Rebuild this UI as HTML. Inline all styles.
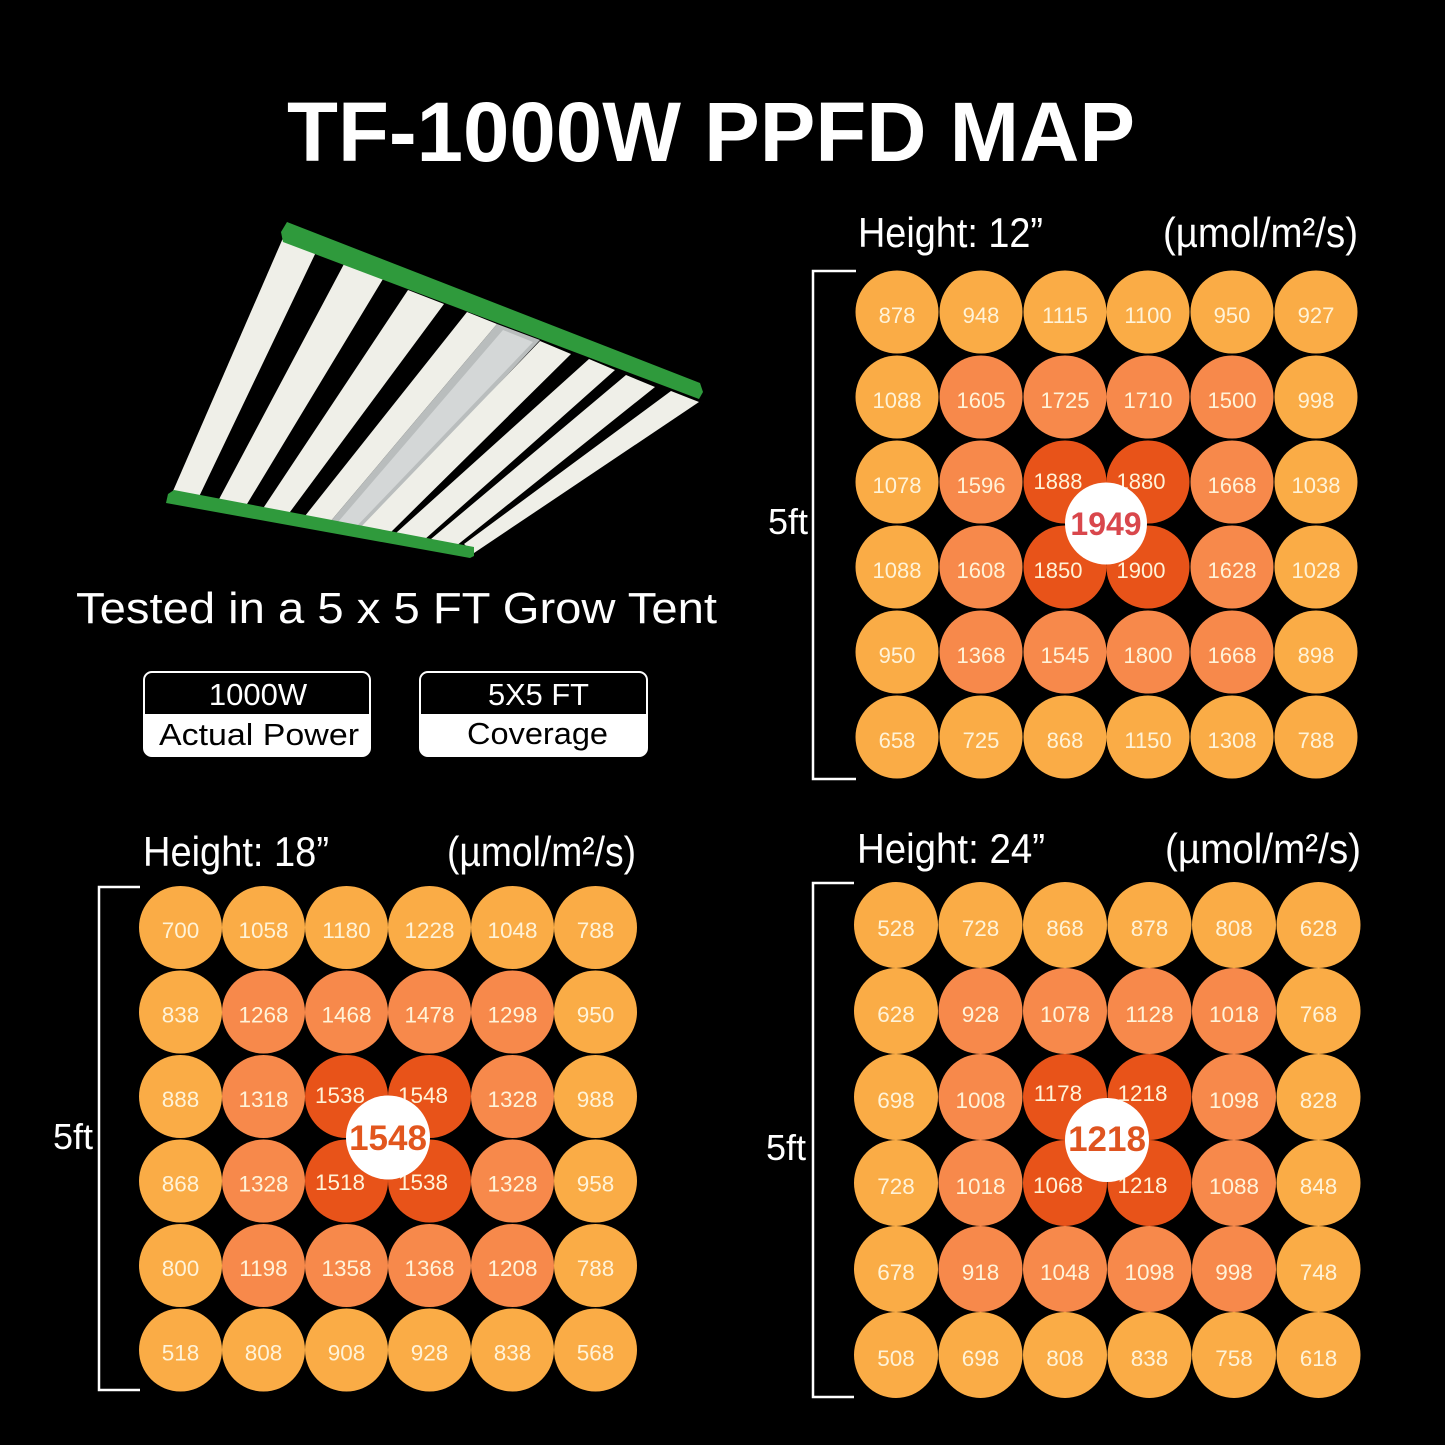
<!DOCTYPE html>
<html><head><meta charset="utf-8"><style>
html,body{margin:0;padding:0;background:#000;}
svg{display:block;}
text{font-family:"Liberation Sans",Arial,sans-serif;}
.L{fill:#faac46}.M{fill:#f7894b}.D{fill:#e85319}
.t{font-size:22px;fill:#fff3d8;text-anchor:middle}
.t2{font-size:22.5px;fill:#fff3d8;text-anchor:middle}
.lab{font-size:42px;fill:#fff}
.ft{font-size:36px;fill:#fff;text-anchor:end}
.br{fill:none;stroke:#fff;stroke-width:2.5}
</style></head><body>
<svg width="1445" height="1445" viewBox="0 0 1445 1445" xmlns="http://www.w3.org/2000/svg">
<rect width="1445" height="1445" fill="#000"/>
<text x="287" y="161" font-size="84" font-weight="bold" fill="#fff" textLength="848" lengthAdjust="spacingAndGlyphs">TF-1000W PPFD MAP</text>
<g>
<polygon points="283,238 317,250 196,503 170,498" fill="#efefe8"/>
<polygon points="344,264 383,279 244,509 217,503" fill="#efefe8"/>
<polygon points="408,290 444,304 287,516 262,510" fill="#efefe8"/>
<polygon points="467,312 497,324 330,522 305,516" fill="#efefe8"/>
<polygon points="497,324 540,340 360,532 330,522" fill="#b9bdbd"/>
<polygon points="503,330 533,342 355,528 338,522" fill="#d4d7d7"/>
<polygon points="540,341 571,354 389,534 360,528" fill="#efefe8"/>
<polygon points="589,359 615,370 424,540 396,533" fill="#efefe8"/>
<polygon points="626,375 655,387 456,546 431,539" fill="#efefe8"/>
<polygon points="671,391 699,402 474,553 464,544" fill="#efefe8"/>
<polygon points="281,232 287,222 700,383 703,392 699,399 283,242" fill="#2f9a3c"/>
<polygon points="168,494 174,490 474,547 474,556 470,558 166,503" fill="#2f9a3c"/>
</g>
<text x="76" y="623" font-size="44" fill="#fff" textLength="641" lengthAdjust="spacingAndGlyphs">Tested in a 5 x 5 FT Grow Tent</text>
<defs>
<clipPath id="c1"><rect x="144" y="672" width="226" height="84" rx="8"/></clipPath>
<clipPath id="c2"><rect x="420" y="672" width="227" height="84" rx="8"/></clipPath>
</defs>
<rect x="144" y="714" width="226" height="44" fill="#fff" clip-path="url(#c1)"/>
<rect x="144" y="672" width="226" height="84" rx="8" fill="none" stroke="#fff" stroke-width="2"/>
<text x="258" y="705" font-size="31" fill="#fff" text-anchor="middle">1000W</text>
<text x="159" y="745" font-size="31" fill="#000" textLength="200" lengthAdjust="spacingAndGlyphs">Actual Power</text>
<rect x="420" y="714" width="227" height="44" fill="#fff" clip-path="url(#c2)"/>
<rect x="420" y="672" width="227" height="84" rx="8" fill="none" stroke="#fff" stroke-width="2"/>
<text x="488" y="705" font-size="31" fill="#fff" textLength="101" lengthAdjust="spacingAndGlyphs">5X5 FT</text>
<text x="467" y="744" font-size="31" fill="#000" textLength="141" lengthAdjust="spacingAndGlyphs">Coverage</text>

<!-- Grid 1 -->
<text class="lab" x="858" y="247" textLength="185" lengthAdjust="spacingAndGlyphs">Height: 12”</text>
<text class="lab" x="1163" y="247" textLength="195" lengthAdjust="spacingAndGlyphs">(µmol/m²/s)</text>
<polyline class="br" points="856,271 813,271 813,779 856,779"/>
<text class="ft" x="808" y="534">5ft</text>
<g>
<circle class="L" cx="897" cy="312" r="41.5"/><circle class="L" cx="981" cy="312" r="41.5"/><circle class="L" cx="1065" cy="312" r="41.5"/><circle class="L" cx="1148" cy="312" r="41.5"/><circle class="L" cx="1232" cy="312" r="41.5"/><circle class="L" cx="1316" cy="312" r="41.5"/>
<circle class="L" cx="897" cy="397" r="41.5"/><circle class="M" cx="981" cy="397" r="41.5"/><circle class="M" cx="1065" cy="397" r="41.5"/><circle class="M" cx="1148" cy="397" r="41.5"/><circle class="M" cx="1232" cy="397" r="41.5"/><circle class="L" cx="1316" cy="397" r="41.5"/>
<circle class="L" cx="897" cy="482" r="41.5"/><circle class="M" cx="981" cy="482" r="41.5"/><circle class="D" cx="1065" cy="482" r="41.5"/><circle class="D" cx="1148" cy="482" r="41.5"/><circle class="M" cx="1232" cy="482" r="41.5"/><circle class="L" cx="1316" cy="482" r="41.5"/>
<circle class="L" cx="897" cy="567" r="41.5"/><circle class="M" cx="981" cy="567" r="41.5"/><circle class="D" cx="1065" cy="567" r="41.5"/><circle class="D" cx="1148" cy="567" r="41.5"/><circle class="M" cx="1232" cy="567" r="41.5"/><circle class="L" cx="1316" cy="567" r="41.5"/>
<circle class="L" cx="897" cy="652" r="41.5"/><circle class="M" cx="981" cy="652" r="41.5"/><circle class="M" cx="1065" cy="652" r="41.5"/><circle class="M" cx="1148" cy="652" r="41.5"/><circle class="M" cx="1232" cy="652" r="41.5"/><circle class="L" cx="1316" cy="652" r="41.5"/>
<circle class="L" cx="897" cy="737" r="41.5"/><circle class="L" cx="981" cy="737" r="41.5"/><circle class="L" cx="1065" cy="737" r="41.5"/><circle class="L" cx="1148" cy="737" r="41.5"/><circle class="L" cx="1232" cy="737" r="41.5"/><circle class="L" cx="1316" cy="737" r="41.5"/>
</g>
<g class="t">
<text class="t" x="897" y="323">878</text><text class="t" x="981" y="323">948</text><text class="t" x="1065" y="323">1115</text><text class="t" x="1148" y="323">1100</text><text class="t" x="1232" y="323">950</text><text class="t" x="1316" y="323">927</text>
<text class="t" x="897" y="408">1088</text><text class="t" x="981" y="408">1605</text><text class="t" x="1065" y="408">1725</text><text class="t" x="1148" y="408">1710</text><text class="t" x="1232" y="408">1500</text><text class="t" x="1316" y="408">998</text>
<text class="t" x="897" y="493">1078</text><text class="t" x="981" y="493">1596</text><text class="t" x="1058" y="489">1888</text><text class="t" x="1141" y="489">1880</text><text class="t" x="1232" y="493">1668</text><text class="t" x="1316" y="493">1038</text>
<text class="t" x="897" y="578">1088</text><text class="t" x="981" y="578">1608</text><text class="t" x="1058" y="578">1850</text><text class="t" x="1141" y="578">1900</text><text class="t" x="1232" y="578">1628</text><text class="t" x="1316" y="578">1028</text>
<text class="t" x="897" y="663">950</text><text class="t" x="981" y="663">1368</text><text class="t" x="1065" y="663">1545</text><text class="t" x="1148" y="663">1800</text><text class="t" x="1232" y="663">1668</text><text class="t" x="1316" y="663">898</text>
<text class="t" x="897" y="748">658</text><text class="t" x="981" y="748">725</text><text class="t" x="1065" y="748">868</text><text class="t" x="1148" y="748">1150</text><text class="t" x="1232" y="748">1308</text><text class="t" x="1316" y="748">788</text>
</g>
<circle cx="1106" cy="523.5" r="41" fill="#fff"/>
<text x="1106" y="535" font-size="32" font-weight="bold" fill="#d9474c" text-anchor="middle">1949</text>

<!-- Grid 2 -->
<text class="lab" x="143" y="866" textLength="186" lengthAdjust="spacingAndGlyphs">Height: 18”</text>
<text class="lab" x="447" y="866" textLength="189" lengthAdjust="spacingAndGlyphs">(µmol/m²/s)</text>
<polyline class="br" points="140,887 99,887 99,1390 140,1390"/>
<text class="ft" x="93" y="1149">5ft</text>
<g>
<circle class="L" cx="180.5" cy="927.5" r="41.5"/><circle class="L" cx="263.5" cy="927.5" r="41.5"/><circle class="L" cx="346.5" cy="927.5" r="41.5"/><circle class="L" cx="429.5" cy="927.5" r="41.5"/><circle class="L" cx="512.5" cy="927.5" r="41.5"/><circle class="L" cx="595.5" cy="927.5" r="41.5"/>
<circle class="L" cx="180.5" cy="1012" r="41.5"/><circle class="M" cx="263.5" cy="1012" r="41.5"/><circle class="M" cx="346.5" cy="1012" r="41.5"/><circle class="M" cx="429.5" cy="1012" r="41.5"/><circle class="M" cx="512.5" cy="1012" r="41.5"/><circle class="L" cx="595.5" cy="1012" r="41.5"/>
<circle class="L" cx="180.5" cy="1096.5" r="41.5"/><circle class="M" cx="263.5" cy="1096.5" r="41.5"/><circle class="D" cx="346.5" cy="1096.5" r="41.5"/><circle class="D" cx="429.5" cy="1096.5" r="41.5"/><circle class="M" cx="512.5" cy="1096.5" r="41.5"/><circle class="L" cx="595.5" cy="1096.5" r="41.5"/>
<circle class="L" cx="180.5" cy="1181" r="41.5"/><circle class="M" cx="263.5" cy="1181" r="41.5"/><circle class="D" cx="346.5" cy="1181" r="41.5"/><circle class="D" cx="429.5" cy="1181" r="41.5"/><circle class="M" cx="512.5" cy="1181" r="41.5"/><circle class="L" cx="595.5" cy="1181" r="41.5"/>
<circle class="L" cx="180.5" cy="1265.5" r="41.5"/><circle class="M" cx="263.5" cy="1265.5" r="41.5"/><circle class="M" cx="346.5" cy="1265.5" r="41.5"/><circle class="M" cx="429.5" cy="1265.5" r="41.5"/><circle class="M" cx="512.5" cy="1265.5" r="41.5"/><circle class="L" cx="595.5" cy="1265.5" r="41.5"/>
<circle class="L" cx="180.5" cy="1350" r="41.5"/><circle class="L" cx="263.5" cy="1350" r="41.5"/><circle class="L" cx="346.5" cy="1350" r="41.5"/><circle class="L" cx="429.5" cy="1350" r="41.5"/><circle class="L" cx="512.5" cy="1350" r="41.5"/><circle class="L" cx="595.5" cy="1350" r="41.5"/>
</g>
<g>
<text class="t2" x="180.5" y="938">700</text><text class="t2" x="263.5" y="938">1058</text><text class="t2" x="346.5" y="938">1180</text><text class="t2" x="429.5" y="938">1228</text><text class="t2" x="512.5" y="938">1048</text><text class="t2" x="595.5" y="938">788</text>
<text class="t2" x="180.5" y="1022.5">838</text><text class="t2" x="263.5" y="1022.5">1268</text><text class="t2" x="346.5" y="1022.5">1468</text><text class="t2" x="429.5" y="1022.5">1478</text><text class="t2" x="512.5" y="1022.5">1298</text><text class="t2" x="595.5" y="1022.5">950</text>
<text class="t2" x="180.5" y="1107">888</text><text class="t2" x="263.5" y="1107">1318</text><text class="t2" x="340" y="1103">1538</text><text class="t2" x="423" y="1103">1548</text><text class="t2" x="512.5" y="1107">1328</text><text class="t2" x="595.5" y="1107">988</text>
<text class="t2" x="180.5" y="1191.5">868</text><text class="t2" x="263.5" y="1191.5">1328</text><text class="t2" x="340" y="1190">1518</text><text class="t2" x="423" y="1190">1538</text><text class="t2" x="512.5" y="1191.5">1328</text><text class="t2" x="595.5" y="1191.5">958</text>
<text class="t2" x="180.5" y="1276">800</text><text class="t2" x="263.5" y="1276">1198</text><text class="t2" x="346.5" y="1276">1358</text><text class="t2" x="429.5" y="1276">1368</text><text class="t2" x="512.5" y="1276">1208</text><text class="t2" x="595.5" y="1276">788</text>
<text class="t2" x="180.5" y="1360.5">518</text><text class="t2" x="263.5" y="1360.5">808</text><text class="t2" x="346.5" y="1360.5">908</text><text class="t2" x="429.5" y="1360.5">928</text><text class="t2" x="512.5" y="1360.5">838</text><text class="t2" x="595.5" y="1360.5">568</text>
</g>
<circle cx="388" cy="1137.5" r="42" fill="#fff"/>
<text x="388" y="1150" font-size="35" font-weight="bold" fill="#e2561e" text-anchor="middle">1548</text>

<!-- Grid 3 -->
<text class="lab" x="857" y="863" textLength="188" lengthAdjust="spacingAndGlyphs">Height: 24”</text>
<text class="lab" x="1165" y="863" textLength="196" lengthAdjust="spacingAndGlyphs">(µmol/m²/s)</text>
<polyline class="br" points="854,883 813,883 813,1397 854,1397"/>
<text class="ft" x="806" y="1160">5ft</text>
<g>
<ellipse class="L" cx="896" cy="925" rx="42" ry="43"/><ellipse class="L" cx="980.5" cy="925" rx="42" ry="43"/><ellipse class="L" cx="1065" cy="925" rx="42" ry="43"/><ellipse class="L" cx="1149.5" cy="925" rx="42" ry="43"/><ellipse class="L" cx="1234" cy="925" rx="42" ry="43"/><ellipse class="L" cx="1318.5" cy="925" rx="42" ry="43"/>
<ellipse class="L" cx="896" cy="1011" rx="42" ry="43"/><ellipse class="M" cx="980.5" cy="1011" rx="42" ry="43"/><ellipse class="M" cx="1065" cy="1011" rx="42" ry="43"/><ellipse class="M" cx="1149.5" cy="1011" rx="42" ry="43"/><ellipse class="M" cx="1234" cy="1011" rx="42" ry="43"/><ellipse class="L" cx="1318.5" cy="1011" rx="42" ry="43"/>
<ellipse class="L" cx="896" cy="1097" rx="42" ry="43"/><ellipse class="M" cx="980.5" cy="1097" rx="42" ry="43"/><ellipse class="D" cx="1065" cy="1097" rx="42" ry="43"/><ellipse class="D" cx="1149.5" cy="1097" rx="42" ry="43"/><ellipse class="M" cx="1234" cy="1097" rx="42" ry="43"/><ellipse class="L" cx="1318.5" cy="1097" rx="42" ry="43"/>
<ellipse class="L" cx="896" cy="1183" rx="42" ry="43"/><ellipse class="M" cx="980.5" cy="1183" rx="42" ry="43"/><ellipse class="D" cx="1065" cy="1183" rx="42" ry="43"/><ellipse class="D" cx="1149.5" cy="1183" rx="42" ry="43"/><ellipse class="M" cx="1234" cy="1183" rx="42" ry="43"/><ellipse class="L" cx="1318.5" cy="1183" rx="42" ry="43"/>
<ellipse class="L" cx="896" cy="1269" rx="42" ry="43"/><ellipse class="M" cx="980.5" cy="1269" rx="42" ry="43"/><ellipse class="M" cx="1065" cy="1269" rx="42" ry="43"/><ellipse class="M" cx="1149.5" cy="1269" rx="42" ry="43"/><ellipse class="M" cx="1234" cy="1269" rx="42" ry="43"/><ellipse class="L" cx="1318.5" cy="1269" rx="42" ry="43"/>
<ellipse class="L" cx="896" cy="1355" rx="42" ry="43"/><ellipse class="L" cx="980.5" cy="1355" rx="42" ry="43"/><ellipse class="L" cx="1065" cy="1355" rx="42" ry="43"/><ellipse class="L" cx="1149.5" cy="1355" rx="42" ry="43"/><ellipse class="L" cx="1234" cy="1355" rx="42" ry="43"/><ellipse class="L" cx="1318.5" cy="1355" rx="42" ry="43"/>
</g>
<g>
<text class="t2" x="896" y="936">528</text><text class="t2" x="980.5" y="936">728</text><text class="t2" x="1065" y="936">868</text><text class="t2" x="1149.5" y="936">878</text><text class="t2" x="1234" y="936">808</text><text class="t2" x="1318.5" y="936">628</text>
<text class="t2" x="896" y="1022">628</text><text class="t2" x="980.5" y="1022">928</text><text class="t2" x="1065" y="1022">1078</text><text class="t2" x="1149.5" y="1022">1128</text><text class="t2" x="1234" y="1022">1018</text><text class="t2" x="1318.5" y="1022">768</text>
<text class="t2" x="896" y="1108">698</text><text class="t2" x="980.5" y="1108">1008</text><text class="t2" x="1058" y="1101">1178</text><text class="t2" x="1142.5" y="1101">1218</text><text class="t2" x="1234" y="1108">1098</text><text class="t2" x="1318.5" y="1108">828</text>
<text class="t2" x="896" y="1194">728</text><text class="t2" x="980.5" y="1194">1018</text><text class="t2" x="1058" y="1193">1068</text><text class="t2" x="1142.5" y="1193">1218</text><text class="t2" x="1234" y="1194">1088</text><text class="t2" x="1318.5" y="1194">848</text>
<text class="t2" x="896" y="1280">678</text><text class="t2" x="980.5" y="1280">918</text><text class="t2" x="1065" y="1280">1048</text><text class="t2" x="1149.5" y="1280">1098</text><text class="t2" x="1234" y="1280">998</text><text class="t2" x="1318.5" y="1280">748</text>
<text class="t2" x="896" y="1366">508</text><text class="t2" x="980.5" y="1366">698</text><text class="t2" x="1065" y="1366">808</text><text class="t2" x="1149.5" y="1366">838</text><text class="t2" x="1234" y="1366">758</text><text class="t2" x="1318.5" y="1366">618</text>
</g>
<circle cx="1107" cy="1140" r="42" fill="#fff"/>
<text x="1107" y="1151" font-size="35" font-weight="bold" fill="#df5420" text-anchor="middle">1218</text>
</svg>
</body></html>
